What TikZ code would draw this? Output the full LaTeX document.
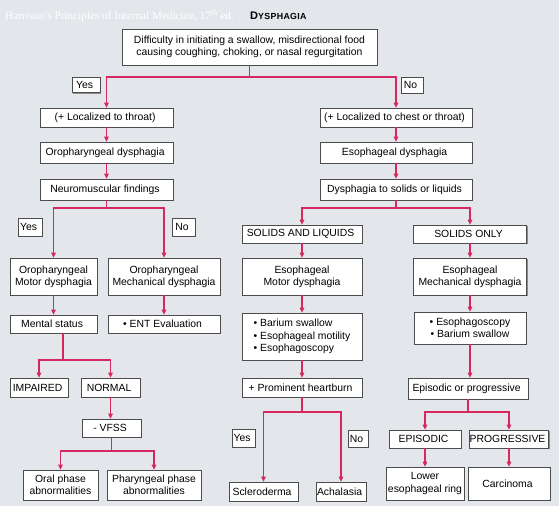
\documentclass[tikz,border=0pt]{standalone}
\usepackage{fontspec}
\setmainfont{Liberation Sans}
\newfontfamily\harfont{Liberation Serif}
\usetikzlibrary{shapes, arrows.meta, shadows, calc, positioning}

\definecolor{bgblue}{HTML}{E3E7EB}
\definecolor{flowred}{HTML}{D6285E}

\tikzset{
    box/.style = {draw = black!70, fill = white, line width = 0.7pt, align = center, inner sep = 0pt,
                  font = \fontsize{10.4}{12.2}\selectfont,
                  drop shadow = {shadow xshift = 1.3pt, shadow yshift = -1.3pt, fill = black!45, opacity = 1}},
    flow/.style = {draw = flowred, line width = 1.6pt},
    flowarr/.style = {flow, -{Triangle[length = 5pt, width = 4.5pt]}},
}

\begin{document}
\begin{tikzpicture}[x = 1pt, y = -1pt]
                \fill [bgblue] (0, 0) rectangle (559, 506);

                % title
                \node [anchor = west, inner sep = 0pt, text = white, font = \harfont\fontsize{11.2}{12}\selectfont] (src) at (5, 16)
                    { Harrison’s Principles of Internal Medicine, 17\textsuperscript{th} ed. };
                \node [anchor = west, inner sep = 0pt, font = \bfseries\fontsize{11}{12}\selectfont] (ttl) at (250, 16)
                    { D{\addfontfeature{LetterSpace = 4}\fontsize{8.8}{10}\selectfont YSPHAGIA} };

                % first question
                \node [box, minimum width = 255, minimum height = 36] (top) at (249.5, 47)
                    { Difficulty in initiating a swallow, misdirectional food\\ causing coughing, choking, or nasal regurgitation };
                \node [box, minimum width = 28, minimum height = 15] (yes1) at (86, 85) { Yes };
                \node [box, minimum width = 22, minimum height = 16] (no1) at (412, 85) { No };

                % oropharyngeal side
                \node [box, minimum width = 133, minimum height = 19] (thr) at (106.5, 117.5) { (+ Localized to throat) };
                \node [box, minimum width = 133, minimum height = 21] (oro) at (106.5, 152.5) { Oropharyngeal dysphagia };
                \node [box, minimum width = 133, minimum height = 21] (neuro) at (106.5, 189.5) { Neuromuscular findings };
                \node [box, minimum width = 24, minimum height = 18] (yes2) at (30, 227) { Yes };
                \node [box, minimum width = 23, minimum height = 18] (no2) at (183.5, 227) { No };
                \node [box, minimum width = 87, minimum height = 37] (omotor) at (53.5, 276.5) { Oropharyngeal\\ Motor dysphagia };
                \node [box, minimum width = 112, minimum height = 37] (omech) at (164, 276.5) { Oropharyngeal\\ Mechanical dysphagia };
                \node [box, minimum width = 87, minimum height = 18] (mental) at (53.5, 324) { Mental status };
                \node [box, minimum width = 112, minimum height = 18] (ent) at (164, 324) { • ENT Evaluation };
                \node [box, minimum width = 58, minimum height = 19] (impaired) at (39, 387.5) { IMPAIRED };
                \node [box, minimum width = 59, minimum height = 19] (normal) at (110.5, 387.5) { NORMAL };
                \node [box, minimum width = 59, minimum height = 18] (vfss) at (111.5, 428) { - VFSS };
                \node [box, minimum width = 75, minimum height = 30] (oral) at (60.5, 485) { Oral phase\\ abnormalities };
                \node [box, minimum width = 94, minimum height = 30] (phar) at (154, 485) { Pharyngeal phase\\ abnormalities };

                % esophageal side
                \node [box, minimum width = 152, minimum height = 19] (chest) at (396, 117.5) { (+ Localized to chest or throat) };
                \node [box, minimum width = 152, minimum height = 21] (eso) at (396, 152.5) { Esophageal dysphagia };
                \node [box, minimum width = 152, minimum height = 21] (solliq) at (396, 189.5) { Dysphagia to solids or liquids };
                \node [box, minimum width = 120, minimum height = 18] (both) at (302, 234) { SOLIDS AND LIQUIDS };
                \node [box, minimum width = 113, minimum height = 18] (solid) at (470, 234) { SOLIDS ONLY };
                \node [box, minimum width = 120, minimum height = 37] (emotor) at (302, 276.5) { Esophageal\\ Motor dysphagia };
                \node [box, minimum width = 113, minimum height = 37] (emech) at (470, 276.5) { Esophageal\\ Mechanical dysphagia };
                \node [box, minimum width = 120, minimum height = 47, align = left] (motortests) at (302, 336.5)
                    { • Barium swallow\\ • Esophageal motility\\ • Esophagoscopy };
                \node [box, minimum width = 112, minimum height = 32] (mechtests) at (470, 328) { • Esophagoscopy\\ • Barium swallow };
                \node [box, minimum width = 120, minimum height = 19] (heart) at (302, 387.5) { + Prominent heartburn };
                \node [box, minimum width = 120, minimum height = 21] (course) at (468, 388.5) { Episodic or progressive };
                \node [box, minimum width = 23, minimum height = 18] (yes3) at (243.5, 438) { Yes };
                \node [box, minimum width = 20, minimum height = 17] (no3) at (358, 438.5) { No };
                \node [box, minimum width = 72, minimum height = 18] (episodic) at (425, 439) { EPISODIC };
                \node [box, minimum width = 78, minimum height = 18] (progressive) at (509, 439) { PROGRESSIVE };
                \node [box, minimum width = 69, minimum height = 19] (sclero) at (263.5, 491.5) { Scleroderma };
                \node [box, minimum width = 50, minimum height = 19] (achal) at (341, 491.5) { Achalasia };
                \node [box, minimum width = 78, minimum height = 33] (ring) at (425, 483.5) { Lower\\ esophageal ring };
                \node [box, minimum width = 82, minimum height = 33] (carc) at (509, 483.5) { Carcinoma };

                % split points
                \coordinate (s1) at (249.5, 77);
                \coordinate (s2) at (106.5, 208);
                \coordinate (s3) at (396, 208);
                \coordinate (s4) at (63, 360);
                \coordinate (s5) at (111.5, 451);
                \coordinate (s6) at (302, 412);
                \coordinate (s7) at (468, 412);

                \draw [flow] (top.south) to (s1);
                \draw [flowarr] (s1) -| (thr.north);
                \draw [flowarr] (s1) -| (chest.north);

                \draw [flowarr] (thr.south) to (oro.north);
                \draw [flowarr] (oro.south) to (neuro.north);
                \draw [flow] (neuro.south) to (s2);
                \draw [flowarr] (s2) -| (omotor.north);
                \draw [flowarr] (s2) -| (omech.north);
                \draw [flowarr] (omotor.south) to (mental.north);
                \draw [flowarr] (omech.south) to (ent.north);
                \draw [flow] (s4 |- mental.south) to (s4);
                \draw [flowarr] (s4) -| (impaired.north);
                \draw [flowarr] (s4) -| (normal.north);
                \draw [flowarr] (normal.south) to (normal.south |- vfss.north);
                \draw [flow] (vfss.south) to (s5);
                \draw [flowarr] (s5) -| (oral.north);
                \draw [flowarr] (s5) -| (phar.north);

                \draw [flowarr] (chest.south) to (eso.north);
                \draw [flowarr] (eso.south) to (solliq.north);
                \draw [flow] (solliq.south) to (s3);
                \draw [flowarr] (s3) -| (both.north);
                \draw [flowarr] (s3) -| (solid.north);
                \draw [flowarr] (both.south) to (emotor.north);
                \draw [flowarr] (emotor.south) to (motortests.north);
                \draw [flowarr] (motortests.south) to (heart.north);
                \draw [flow] (heart.south) to (s6);
                \draw [flowarr] (s6) -| (sclero.north);
                \draw [flowarr] (s6) -| (achal.north);
                \draw [flowarr] (solid.south) to (emech.north);
                \draw [flowarr] (emech.south) to (mechtests.north);
                \draw [flowarr] (mechtests.south) to (mechtests.south |- course.north);
                \draw [flow] (course.south) to (s7);
                \draw [flowarr] (s7) -| (episodic.north);
                \draw [flowarr] (s7) -| (progressive.north);
                \draw [flowarr] (episodic.south) to (ring.north);
                \draw [flowarr] (progressive.south) to (carc.north);
            \end{tikzpicture}
\end{document}
